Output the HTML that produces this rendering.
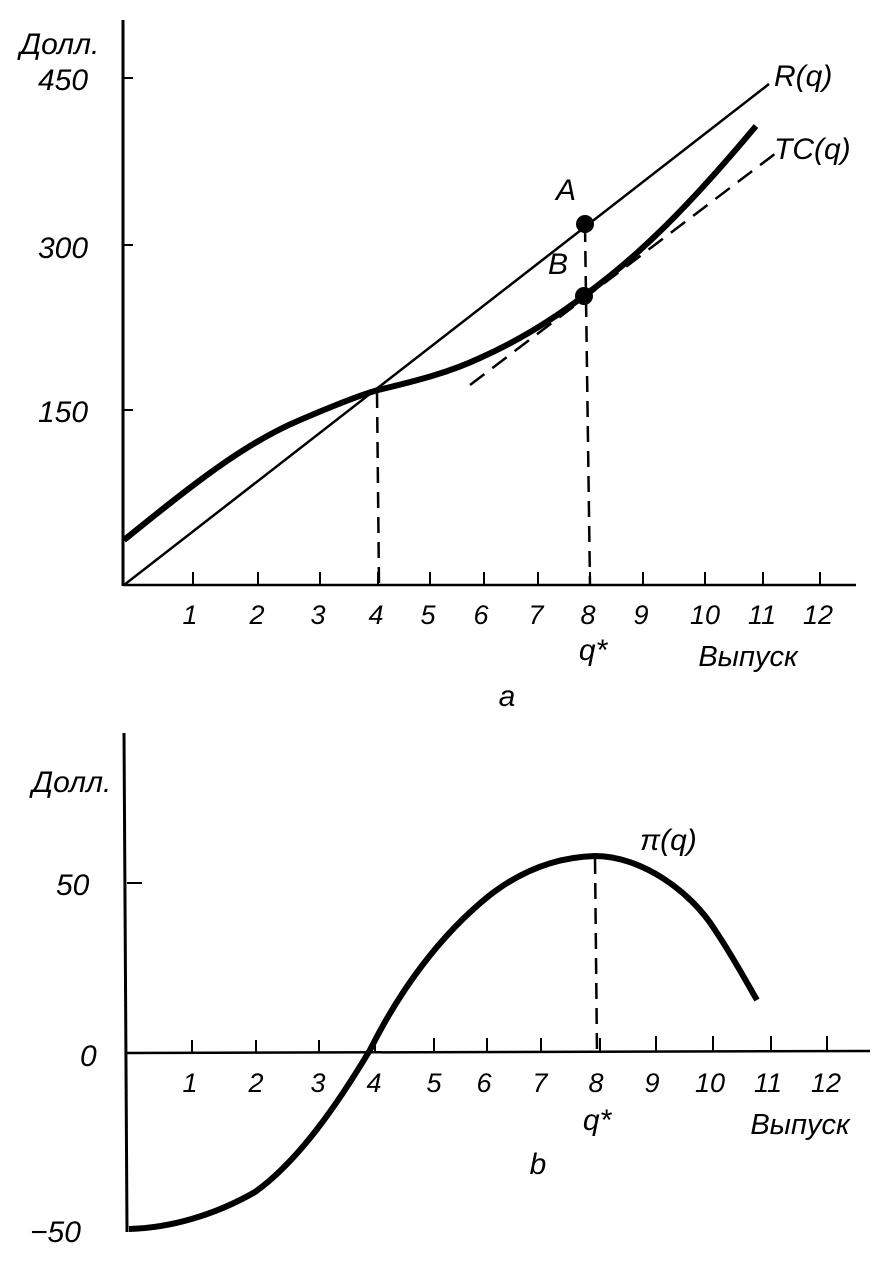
<!DOCTYPE html>
<html><head><meta charset="utf-8"><style>
html,body{margin:0;padding:0;background:#fff;}
svg text{font-family:"Liberation Sans",sans-serif;font-style:italic;fill:#000;}
</style></head><body>
<svg width="887" height="1264" viewBox="0 0 887 1264" xmlns="http://www.w3.org/2000/svg">
<g stroke="#000" fill="none">
<line x1="123" y1="20" x2="123" y2="586" stroke-width="3"/>
<line x1="123" y1="585" x2="856" y2="585" stroke-width="2.5"/>
<g stroke-width="2">
<line x1="124" y1="78" x2="133" y2="78"/>
<line x1="124" y1="245" x2="133" y2="245"/>
<line x1="124" y1="410" x2="133" y2="410"/>
<line x1="193" y1="572" x2="193" y2="585"/><line x1="258" y1="572" x2="258" y2="585"/>
<line x1="320" y1="572" x2="320" y2="585"/><line x1="378" y1="572" x2="378" y2="585"/>
<line x1="430" y1="572" x2="430" y2="585"/><line x1="484" y1="572" x2="484" y2="585"/>
<line x1="538" y1="572" x2="538" y2="585"/><line x1="590" y1="572" x2="590" y2="585"/>
<line x1="643" y1="572" x2="643" y2="585"/><line x1="705" y1="572" x2="705" y2="585"/>
<line x1="763" y1="572" x2="763" y2="585"/><line x1="820" y1="572" x2="820" y2="585"/>
</g>
<line x1="124" y1="585" x2="769" y2="84" stroke-width="2.5"/>
<path d="M124,540 C180,495 240,445 300,420 C335,405 360,395 378,390 C420,380 450,372 480,358 C520,340 555,318 585,295 C640,255 690,205 756,126" stroke-width="6"/>
<line x1="470" y1="385" x2="780" y2="150" stroke-width="2.5" stroke-dasharray="18,10"/>
<line x1="377" y1="392" x2="379" y2="585" stroke-width="2.5" stroke-dasharray="16,9"/>
<line x1="585" y1="226" x2="590" y2="585" stroke-width="2.5" stroke-dasharray="16,9"/>
</g>
<circle cx="585" cy="224" r="9" fill="#000"/>
<circle cx="584" cy="296" r="9" fill="#000"/>
<g font-size="30">
<text x="20" y="54">Долл.</text>
<text x="38" y="90">450</text>
<text x="38" y="258">300</text>
<text x="38" y="422">150</text>
<text x="774" y="86">R(q)</text>
<text x="774" y="159">TC(q)</text>
<text x="556" y="200">A</text>
<text x="548" y="274">B</text>
</g>
<g font-size="27" text-anchor="middle">
<text x="190" y="624">1</text><text x="257" y="624">2</text><text x="318" y="624">3</text>
<text x="376" y="624">4</text><text x="428" y="624">5</text><text x="481" y="624">6</text>
<text x="536" y="624">7</text><text x="588" y="624">8</text><text x="641" y="624">9</text>
<text x="705" y="624">10</text><text x="762" y="624">11</text><text x="818" y="624">12</text>
<text x="593" y="660" font-size="30">q*</text>
<text x="748" y="666" font-size="29">Выпуск</text>
<text x="507" y="706" font-size="30">a</text>
</g>
<g stroke="#000" fill="none">
<line x1="124" y1="733" x2="127" y2="1232" stroke-width="3"/>
<line x1="126" y1="1053" x2="870" y2="1051" stroke-width="2.5"/>
<line x1="127" y1="883" x2="142" y2="883" stroke-width="2"/>
<g stroke-width="2">
<line x1="192" y1="1040" x2="192" y2="1053"/><line x1="256" y1="1040" x2="256" y2="1053"/>
<line x1="319" y1="1040" x2="319" y2="1053"/><line x1="375" y1="1040" x2="375" y2="1053"/>
<line x1="434" y1="1038" x2="434" y2="1053"/><line x1="487" y1="1038" x2="487" y2="1053"/>
<line x1="541" y1="1038" x2="541" y2="1053"/><line x1="600" y1="1038" x2="600" y2="1053"/>
<line x1="656" y1="1036" x2="656" y2="1052"/><line x1="713" y1="1036" x2="713" y2="1052"/>
<line x1="771" y1="1036" x2="771" y2="1052"/><line x1="827" y1="1036" x2="827" y2="1052"/>
</g>
<path d="M129,1229 C170,1228 215,1215 255,1192 C300,1160 340,1100 370,1050 C400,990 440,935 490,895 C525,868 560,857 595,856 C640,856 690,890 715,930 C735,960 748,985 757,1000" stroke-width="6"/>
<line x1="595" y1="858" x2="597" y2="1053" stroke-width="2.5" stroke-dasharray="16,9"/>
</g>
<g font-size="30">
<text x="32" y="792">Долл.</text>
<text x="56" y="895">50</text>
<text x="80" y="1066">0</text>
<text x="30" y="1242">−50</text>
<text x="640" y="850">π(q)</text>
</g>
<g font-size="27" text-anchor="middle">
<text x="190" y="1092">1</text><text x="256" y="1092">2</text><text x="318" y="1092">3</text>
<text x="374" y="1092">4</text><text x="434" y="1092">5</text><text x="484" y="1092">6</text>
<text x="540" y="1092">7</text><text x="596" y="1092">8</text><text x="652" y="1092">9</text>
<text x="710" y="1092">10</text><text x="768" y="1092">11</text><text x="826" y="1092">12</text>
<text x="597" y="1130" font-size="30">q*</text>
<text x="800" y="1134" font-size="29">Выпуск</text>
<text x="538" y="1174" font-size="30">b</text>
</g>
</svg>
</body></html>
